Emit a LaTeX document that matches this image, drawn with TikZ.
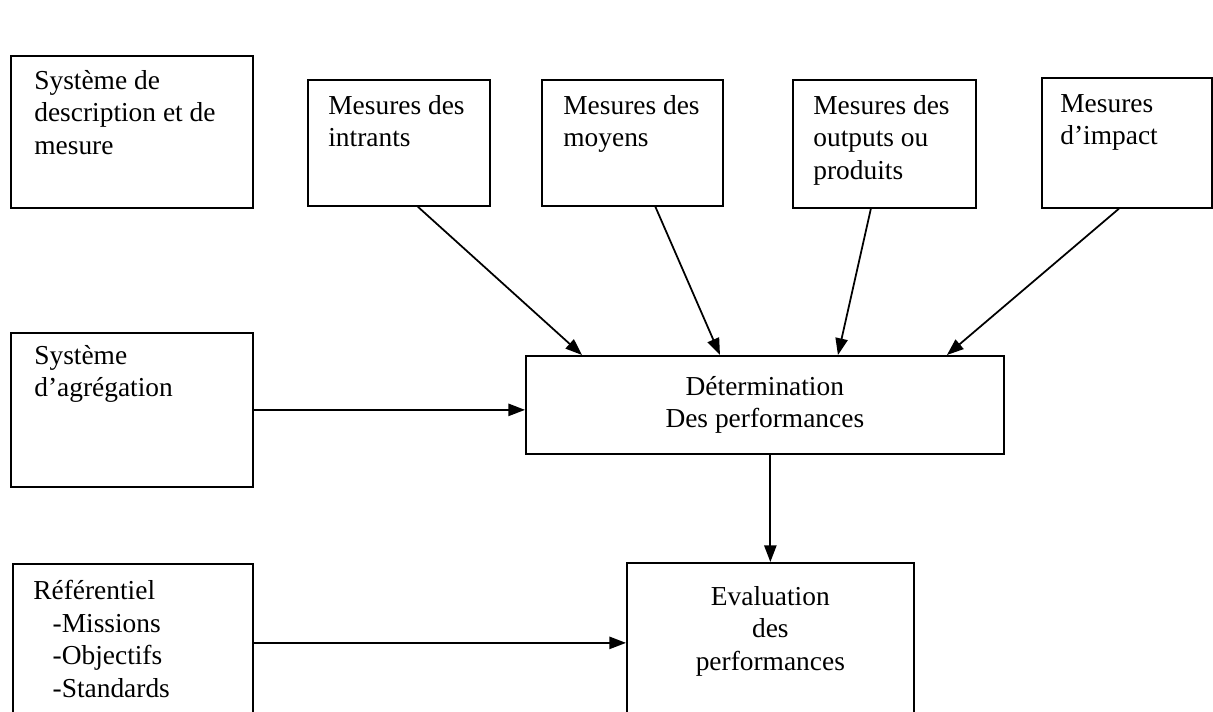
\documentclass[tikz,border=0pt]{standalone}
\usepackage{fontspec}
\setmainfont{Liberation Serif}
\usetikzlibrary{arrows.meta}

\begin{document}
\begin{tikzpicture}[x=0.02cm, y=-0.02cm,
    boite/.style={draw, line width=1pt, anchor=north west, inner sep=0pt,
                  font=\fontsize{15.6}{18.5}\selectfont},
    texte/.style={anchor=north west, align=left, inner sep=0pt,
                  font=\fontsize{15.6}{18.5}\selectfont},
    fleche/.style={line width=1pt, -{Triangle[length=9.5pt, width=7pt]}}]
  \useasboundingbox (0,0) rectangle (1213,711);
  % rangee du haut
  \node [boite, minimum width=4.84cm, minimum height=3.04cm] (sysdesc) at (10,55) {};
  \node [boite, minimum width=3.64cm, minimum height=2.52cm] (intrants) at (307,79) {};
  \node [boite, minimum width=3.62cm, minimum height=2.52cm] (moyens) at (541,79) {};
  \node [boite, minimum width=3.66cm, minimum height=2.56cm] (outputs) at (792,79) {};
  \node [boite, minimum width=3.40cm, minimum height=2.60cm] (impact) at (1041,77) {};
  \node [texte] (sysdesctxt) at ([shift={(24,15)}]sysdesc.north west)
        {Système de\\description et de\\mesure};
  \node [texte] (intrantstxt) at ([shift={(21,16)}]intrants.north west)
        {Mesures des\\intrants};
  \node [texte] (moyenstxt) at ([shift={(22,16)}]moyens.north west)
        {Mesures des\\moyens};
  \node [texte] (outputstxt) at ([shift={(21,16)}]outputs.north west)
        {Mesures des\\outputs ou\\produits};
  \node [texte] (impacttxt) at ([shift={(19,17)}]impact.north west)
        {Mesures\\d’impact};
  % rangee du milieu
  \node [boite, minimum width=4.84cm, minimum height=3.08cm] (agreg) at (10,332) {};
  \node [texte] (agregtxt) at ([shift={(24,13)}]agreg.north west)
        {Système\\d’agrégation};
  \node [boite, minimum width=9.56cm, minimum height=1.96cm, align=center] (determ) at (525,355)
        {Détermination\\Des performances};
  % rangee du bas
  \node [boite, minimum width=4.80cm, minimum height=3.16cm] (referent) at (12,563) {};
  \node [texte] (referenttxt) at ([shift={(21,17)}]referent.north west)
        {Référentiel\\\hspace*{11pt}-Missions\\\hspace*{11pt}-Objectifs\\\hspace*{11pt}-Standards};
  \node [boite, minimum width=5.74cm, minimum height=3.40cm] (evalu) at (626,562) {};
  \node [texte, anchor=north, align=center] (evalutxt) at ([shift={(0,24)}]evalu.north)
        {Evaluation\\des\\performances};
  % fleches
  \draw [fleche] ([xshift=0.38cm]intrants.south) -- ([xshift=1.14cm]determ.north west);
  \draw [fleche] ([xshift=0.46cm]moyens.south) -- ([xshift=3.9cm]determ.north west);
  \draw [fleche] ([xshift=-0.27cm]outputs.south) -- ([xshift=6.26cm]determ.north west);
  \draw [fleche] ([xshift=-0.16cm]impact.south) -- ([xshift=8.44cm]determ.north west);
  \draw [fleche] (agreg.east) -- (agreg.east -| determ.west);
  \draw [fleche] (determ.south -| evalu.north) -- (evalu.north);
  \draw [fleche] (referent.east) -- (referent.east -| evalu.west);
\end{tikzpicture}
\end{document}
